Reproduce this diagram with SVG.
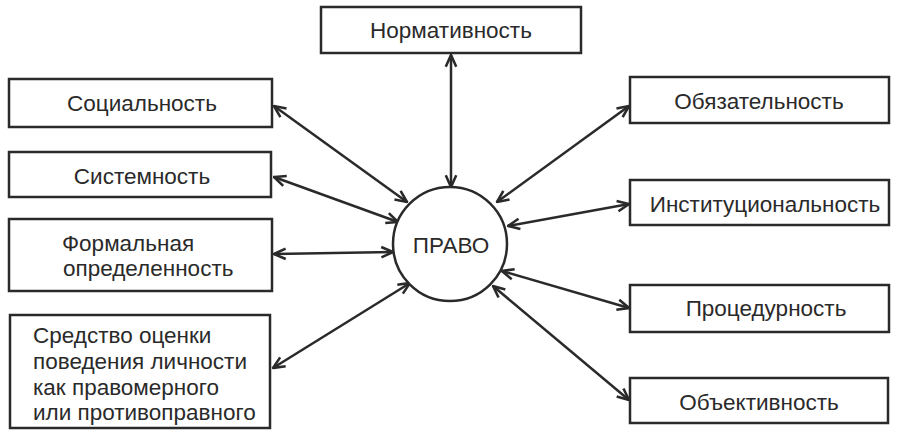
<svg xmlns="http://www.w3.org/2000/svg" width="905" height="434" viewBox="0 0 905 434">
<defs>
<marker id="ah" viewBox="0 0 12 12" refX="11" refY="6" markerWidth="14" markerHeight="14" markerUnits="userSpaceOnUse" orient="auto-start-reverse">
<path d="M1,1.5 L11,6 L1,10.5" fill="none" stroke="#2a2a2a" stroke-width="2.2"/>
</marker>
<style>
.b{fill:#fff;stroke:#2a2a2a;stroke-width:2.5}
.t{font-family:"Liberation Sans",Arial,sans-serif;font-size:22.5px;fill:#2a2a2a}
.c{stroke:#2a2a2a;stroke-width:2.5;fill:none;marker-start:url(#ah);marker-end:url(#ah)}
</style>
</defs>
<rect width="905" height="434" fill="#fff"/>
<g id="connectors">
<line class="c" x1="451" y1="55" x2="451" y2="187"/>
<line class="c" x1="274" y1="106" x2="407" y2="202"/>
<line class="c" x1="274" y1="177" x2="398" y2="222"/>
<line class="c" x1="274" y1="254" x2="393" y2="252"/>
<line class="c" x1="273" y1="368" x2="410" y2="283"/>
<line class="c" x1="629" y1="106" x2="497" y2="202"/>
<line class="c" x1="629" y1="204" x2="508" y2="226"/>
<line class="c" x1="629" y1="308" x2="502" y2="271"/>
<line class="c" x1="629" y1="400" x2="493" y2="286"/>
</g>
<g id="pravo">
<circle cx="450" cy="244" r="57" fill="#fff" stroke="#2a2a2a" stroke-width="2.5"/>
<text class="t" x="451" y="253" text-anchor="middle">ПРАВО</text>
</g>
<g id="normativnost">
<rect class="b" x="321" y="7" width="260" height="46"/>
<text class="t" x="451" y="38" text-anchor="middle">Нормативность</text>
</g>
<g id="sotsialnost">
<rect class="b" x="9" y="79" width="263" height="48"/>
<text class="t" x="142" y="111" text-anchor="middle">Социальность</text>
</g>
<g id="sistemnost">
<rect class="b" x="9" y="152" width="262" height="45"/>
<text class="t" x="142" y="184" text-anchor="middle">Системность</text>
</g>
<g id="formalnaya">
<rect class="b" x="9" y="219" width="263" height="72"/>
<text class="t" x="62" y="251">Формальная</text>
<text class="t" x="63" y="276">определенность</text>
</g>
<g id="sredstvo">
<rect class="b" x="10" y="315" width="260" height="113"/>
<text class="t" x="33" y="343">Средство оценки</text>
<text class="t" x="33" y="369">поведения личности</text>
<text class="t" x="33" y="395">как правомерного</text>
<text class="t" x="33" y="420">или противоправного</text>
</g>
<g id="obyazatelnost">
<rect class="b" x="630" y="77" width="259" height="46"/>
<text class="t" x="759" y="109" text-anchor="middle">Обязательность</text>
</g>
<g id="institutsionalnost">
<rect class="b" x="630" y="180" width="259" height="45"/>
<text class="t" x="765" y="212" text-anchor="middle">Институциональность</text>
</g>
<g id="protsedurnost">
<rect class="b" x="630" y="285" width="259" height="47"/>
<text class="t" x="766" y="316" text-anchor="middle">Процедурность</text>
</g>
<g id="obyektivnost">
<rect class="b" x="630" y="378" width="258" height="45"/>
<text class="t" x="759" y="410" text-anchor="middle">Объективность</text>
</g>
</svg>
